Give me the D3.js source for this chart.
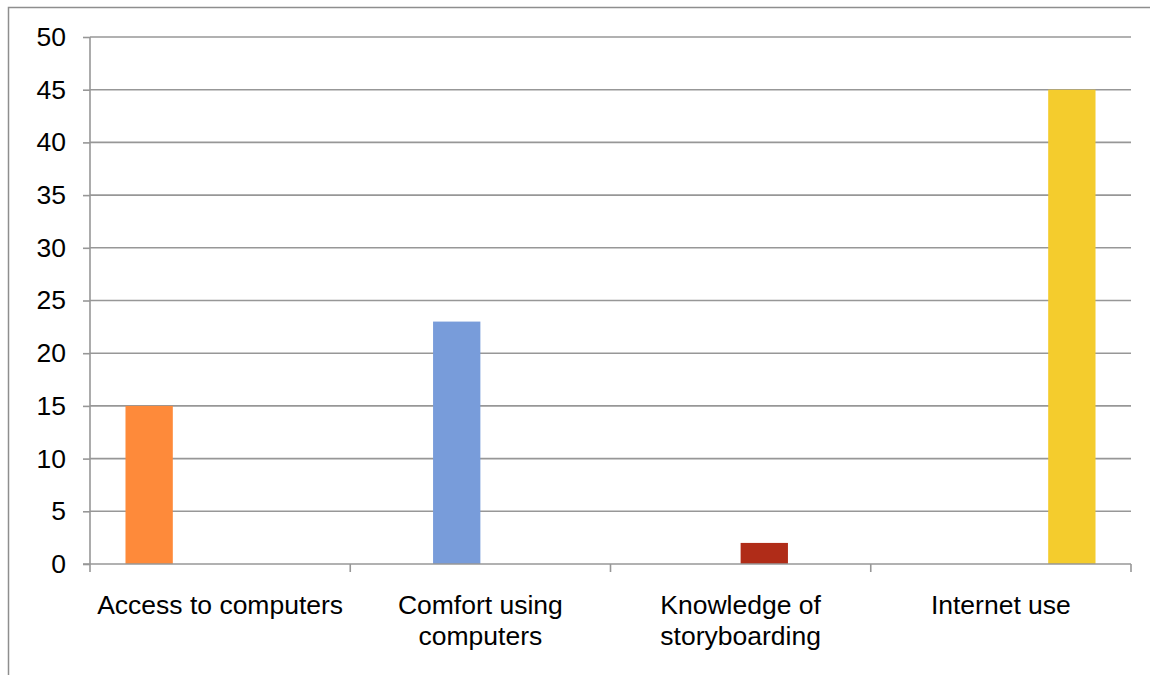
<!DOCTYPE html>
<html>
<head>
<meta charset="utf-8">
<script src="https://cdn.jsdelivr.net/npm/d3@7"></script>
<style>
  html, body { margin: 0; padding: 0; background: #fff; }
  svg { display: block; }
  text { font-family: "Liberation Sans", Arial, sans-serif; fill: #000; }
</style>
</head>
<body>
<svg id="chart" width="1150" height="675"></svg>
<script>
// Survey categories and one series per category (grouped layout, Excel style)
const categories = ["Access to computers", "Comfort using computers", "Knowledge of storyboarding", "Internet use"];
const seriesNames = ["Access to computers", "Comfort using computers", "Knowledge of storyboarding", "Internet use"];
const seriesValues = [
  [15, 0, 0, 0],
  [0, 23, 0, 0],
  [0, 0, 2, 0],
  [0, 0, 0, 45]
];
const seriesColors = ["#fe8a3a", "#789cda", "#b02c18", "#f4cc2d"];
const yTicks = [0, 5, 10, 15, 20, 25, 30, 35, 40, 45, 50];

const svg = d3.select("#chart");
const plot = { left: 90, right: 1131, top: 37, bottom: 564 };
const gridColor = "#979797";
const fontSize = 26.5;

// Outer chart frame
svg.append("path")
  .attr("d", "M8.5,676 V7.5 H1152")
  .attr("fill", "none")
  .attr("stroke", "#8e8e8e")
  .attr("stroke-width", 1.5);

const x0 = d3.scaleBand().domain(categories).range([plot.left, plot.right]).paddingInner(0).paddingOuter(0);
const x1 = d3.scaleBand().domain(seriesNames).range([0, x0.bandwidth()]).paddingInner(0).paddingOuter(0.75);
const y = d3.scaleLinear().domain([0, 50]).range([plot.bottom, plot.top]);

// Horizontal gridlines
svg.append("g").selectAll("line")
  .data(yTicks.filter(d => d > 0))
  .join("line")
  .attr("x1", plot.left).attr("x2", plot.right)
  .attr("y1", d => y(d)).attr("y2", d => y(d))
  .attr("stroke", gridColor).attr("stroke-width", 1.6);

// Bars
categories.forEach((cat, ci) => {
  const g = svg.append("g").attr("transform", `translate(${x0(cat)},0)`);
  g.selectAll("rect")
    .data(seriesNames.map((s, si) => ({ s, si, v: seriesValues[si][ci] })).filter(d => d.v > 0))
    .join("rect")
    .attr("x", d => x1(d.s))
    .attr("width", x1.bandwidth())
    .attr("y", d => y(d.v))
    .attr("height", d => y(0) - y(d.v))
    .attr("fill", d => seriesColors[d.si]);
});

// Y axis
const yAxis = svg.append("g")
  .attr("transform", `translate(${plot.left},0)`)
  .call(d3.axisLeft(y).tickValues(yTicks).tickSize(7).tickPadding(17));
yAxis.select(".domain").attr("stroke", gridColor).attr("stroke-width", 1.6).attr("d", `M0,${plot.top}V${plot.bottom}`);
yAxis.selectAll(".tick line").attr("stroke", gridColor).attr("stroke-width", 1.6);
yAxis.selectAll(".tick text")
  .attr("font-size", fontSize)
  .attr("font-family", "'Liberation Sans', Arial, sans-serif")
  .attr("fill", "#000");

// X axis baseline and band boundary ticks
svg.append("line")
  .attr("x1", plot.left - 7).attr("x2", plot.right)
  .attr("y1", y(0)).attr("y2", y(0))
  .attr("stroke", gridColor).attr("stroke-width", 1.6);
const bounds = categories.map(c => x0(c)).concat([plot.right]);
svg.append("g").selectAll("line")
  .data(bounds)
  .join("line")
  .attr("x1", d => d).attr("x2", d => d)
  .attr("y1", y(0)).attr("y2", y(0) + 8)
  .attr("stroke", gridColor).attr("stroke-width", 1.6);

// Category labels, wrapped to the band width
const labelG = svg.append("g").attr("font-size", fontSize).attr("text-anchor", "middle");
categories.forEach(cat => {
  const t = labelG.append("text")
    .attr("x", x0(cat) + x0.bandwidth() / 2)
    .attr("y", 614);
  const words = cat.split(" ");
  let lines = [];
  let line = [];
  const probe = t.append("tspan");
  words.forEach(w => {
    const trial = line.concat([w]).join(" ");
    probe.text(trial);
    if (probe.node().getComputedTextLength() > x0.bandwidth() - 6 && line.length) {
      lines.push(line.join(" "));
      line = [w];
    } else {
      line.push(w);
    }
  });
  lines.push(line.join(" "));
  probe.remove();
  lines.forEach((l, i) => {
    t.append("tspan")
      .attr("x", x0(cat) + x0.bandwidth() / 2)
      .attr("dy", i === 0 ? 0 : 31)
      .text(l);
  });
});
</script>
</body>
</html>
